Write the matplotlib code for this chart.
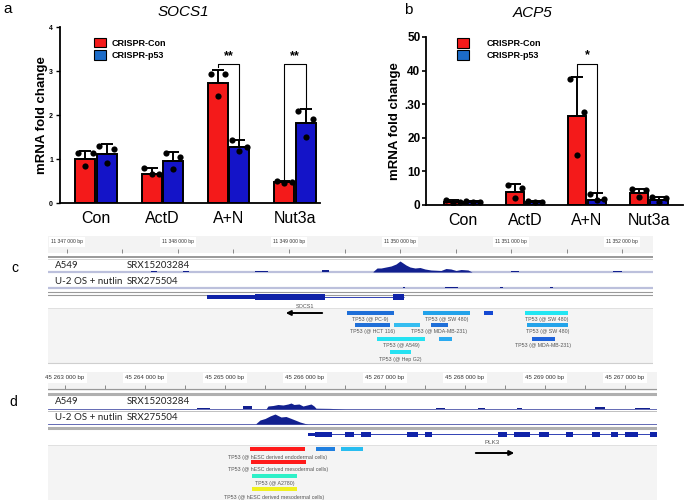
import matplotlib.pyplot as plt
from matplotlib.patches import Patch
import numpy as np

plt.rcParams['font.family'] = ['Liberation Sans', 'DejaVu Sans']

W, H = 685, 500

# ---------------- qPCR data (panels a and b) ----------------
groups = ['Con', 'ActD', 'A+N', 'Nut3a']
series_names = ['CRISPR-Con', 'CRISPR-p53']

socs1_con = [1.00, 0.67, 2.73, 0.47]
socs1_con_sd = [0.19, 0.12, 0.30, 0.03]
socs1_p53 = [1.11, 0.95, 1.27, 1.82]
socs1_p53_sd = [0.24, 0.22, 0.17, 0.32]
socs1_con_pts = [[1.13, 1.13, 0.85], [0.79, 0.67, 0.67], [2.93, 2.93, 2.43], [0.49, 0.48, 0.46]]
socs1_p53_pts = [[1.29, 1.22, 0.90], [1.14, 1.05, 0.77], [1.43, 1.27, 1.18], [2.09, 1.92, 1.50]]

acp5_con = [1.0, 3.8, 26.6, 3.7]
acp5_con_sd = [0.6, 2.5, 11.6, 1.0]
acp5_p53 = [1.0, 1.0, 1.6, 1.4]
acp5_p53_sd = [0.3, 0.3, 1.9, 1.0]
acp5_con_pts = [[1.5, 0.9, 0.6], [6.0, 5.0, 2.2], [37.5, 27.8, 15.0], [4.8, 4.5, 2.4]]
acp5_p53_pts = [[1.3, 1.0, 0.8], [1.3, 1.0, 0.8], [3.4, 1.7, 1.4], [2.4, 2.1, 0.9]]

acp5_ticks = [0, 10, 20, 30, 40, 50]
acp5_ticklabels = ['0', '10', '20', '.30', '40', '50']

# ---------------- genome browser data (panels c and d) ----------------
c_ruler_pos = [11347000, 11348000, 11349000, 11350000, 11351000, 11352000]
c_ruler_labels = ['11 347 000 bp', '11 348 000 bp', '11 349 000 bp',
                  '11 350 000 bp', '11 351 000 bp', '11 352 000 bp']
d_ruler_pos = [45263000, 45264000, 45265000, 45266000, 45267000, 45268000, 45269000, 45270000]
d_ruler_labels = ['45 263 000 bp', '45 264 000 bp', '45 265 000 bp', '45 266 000 bp',
                  '45 267 000 bp', '45 268 000 bp', '45 269 000 bp', '45 267 000 bp']

track_names = ['A549', 'U-2 OS + nutlin']
track_ids = ['SRX15203284', 'SRX275504']

# SOCS1 region coverage
c_a549_pos = [11349757, 11349793, 11349829, 11349874, 11349919, 11349964, 11350000,
              11350027, 11350054, 11350090, 11350135, 11350180, 11350225, 11350279,
              11350369, 11350414, 11350459, 11350505, 11350550, 11350613, 11350649]
c_a549_sig = [0.5, 4, 4, 5, 6, 8, 11, 9, 7, 5, 4, 4.5, 3, 2, 1.5, 3.5, 3, 1.5, 2.5, 2, 0]
c_a549_blip_start = [11347757, 11348045, 11348694, 11349297, 11351000, 11351919]
c_a549_blip_end = [11347811, 11348099, 11348811, 11349360, 11351072, 11352000]
c_a549_blip_sig = [1.5, 1.5, 1.0, 2.5, 1.0, 1.0]
c_u2os_blip_start = [11350027, 11350405, 11350900, 11351351]
c_u2os_blip_end = [11350045, 11350522, 11350928, 11351378]
c_u2os_blip_sig = [1.0, 1.0, 1.0, 1.0]

socs1_utr = [(11348260, 11348695)]
socs1_cds = [(11348695, 11349325), (11349940, 11350035)]
socs1_span = (11348260, 11350035)

c_feat_labels = ['TP53 (@ PC-9)', 'TP53 (@ SW 480)', '', 'TP53 (@ SW 480)',
                 'TP53 (@ HCT 116)', '', 'TP53 (@ MDA-MB-231)', 'TP53 (@ SW 480)',
                 'TP53 (@ A549)', '', 'TP53 (@ MDA-MB-231)', 'TP53 (@ Hep G2)']
c_feat_start = [11349523, 11350207, 11350757, 11351126, 11349595, 11349946, 11350279,
                11351144, 11349793, 11350351, 11351189, 11349910]
c_feat_end = [11349946, 11350631, 11350838, 11351514, 11349910, 11350180, 11350432,
              11351514, 11350225, 11350468, 11351396, 11350099]

# PLK3 region coverage
d_a549_pos = [45265512, 45265537, 45265600, 45265662, 45265725, 45265787, 45265825, 45265862,
              45265925, 45265975, 45266025, 45266075, 45266112, 45266137, 45266312, 45266500]
d_a549_sig = [0, 3, 3.5, 4.5, 4, 5, 6, 4.5, 5, 3, 4, 5, 3, 0.8, 0.6, 0]
d_a549_blip_start = [45264650, 45265225, 45267637, 45268162, 45268650, 45269625, 45270125]
d_a549_blip_end = [45264812, 45265337, 45267750, 45268250, 45268712, 45269750, 45270312]
d_a549_blip_sig = [1.0, 3.0, 0.8, 1.5, 1.0, 2.5, 1.0]
d_u2os_pos = [45265387, 45265437, 45265500, 45265562, 45265625, 45265662, 45265700,
              45265762, 45265812, 45265875, 45265937, 45266000, 45266037]
d_u2os_sig = [0.5, 4, 5.5, 8, 10, 8.5, 7, 7.5, 6, 4, 2, 0.5, 0]
d_u2os_blip_start = [45265087, 45268100]
d_u2os_blip_end = [45265162, 45268150]
d_u2os_blip_sig = [0.5, 0.5]

plk3_utr = [(45266037, 45266125)]
plk3_exons = [(45266125, 45266337), (45266500, 45266612), (45266700, 45266825),
              (45267275, 45267412), (45267500, 45267587), (45268412, 45268525),
              (45268612, 45268812), (45268925, 45269050), (45269262, 45269350),
              (45269587, 45269687), (45269825, 45269912), (45270000, 45270162),
              (45270312, 45270400)]
plk3_span = (45266037, 45270400)

d_feat_labels = ['TP53 (@ hESC derived endodermal cells)', '', '',
                 'TP53 (@ hESC derived mesodermal cells)', 'TP53 (@ A2780)',
                 'TP53 (@ hESC derived mesodermal cells)']
d_feat_start = [45265312, 45266137, 45266450, 45265325, 45265337, 45265337]
d_feat_end = [45266000, 45266375, 45266725, 45266012, 45265900, 45265900]

# ---------------- styles ----------------
RED = '#f41a1a'
BLUE = '#1414c8'
LEG_BLUE = '#1c6cc8'
NAVY = '#12208f'
GENE = '#1023a8'
c_feat_rows = [313, 313, 313, 313, 325, 325, 325, 325, 339, 339, 339, 352]
c_feat_colors = ['#1f6fd8', '#22a2ea', '#1448d2', '#22e6f2', '#1f6fd8', '#35bdf0',
                 '#1f6fd8', '#24a4ea', '#25e2f2', '#2aaaf0', '#1d62da', '#25e2f2']
d_feat_rows = [449, 449, 449, 462, 476, 489]
d_feat_colors = ['#ff1a1a', '#1f7fe0', '#28bdf0', '#ff1a1a', '#2ef0c8', '#f0f020']


def box(x0, y0, x1, y1):
    return [x0 / W, 1 - y1 / H, (x1 - x0) / W, (y1 - y0) / H]


fig = plt.figure(figsize=(W / 100, H / 100), dpi=100)


def qpcr(ax, con, con_sd, p53, p53_sd, con_pts, p53_pts):
    x = np.arange(len(groups))
    for off, m, sd, pts, col in [(-0.16, con, con_sd, con_pts, RED),
                                 (0.16, p53, p53_sd, p53_pts, BLUE)]:
        ax.bar(x + off, m, 0.3, color=col, edgecolor='black', linewidth=1.4, zorder=2)
        ax.errorbar(x + off, m, yerr=[np.zeros(len(m)), sd], fmt='none', ecolor='black',
                    elinewidth=1.4, capsize=4.5, capthick=1.4, zorder=3)
        for i, p in enumerate(pts):
            ax.scatter(x[i] + off + np.array([-0.11, 0.11, 0.0]), p, s=20,
                       color='black', zorder=4, linewidths=0)
    for s in ['top', 'right']:
        ax.spines[s].set_visible(False)
    for s in ['left', 'bottom']:
        ax.spines[s].set_linewidth(1.3)
    ax.set_xticks(x)
    ax.set_xticklabels(groups, fontsize=11.5)
    ax.tick_params(axis='x', length=0, pad=6)
    ax.set_ylabel('mRNA fold change', fontsize=9.5, fontweight='bold')
    ax.set_facecolor('none')


def bracket(ax, x0, x1, y_left, y_top, y_right, stars, star_y):
    ax.plot([x0, x0, x1, x1], [y_left, y_top, y_top, y_right], color='black', lw=0.8, zorder=5)
    ax.text((x0 + x1) / 2, star_y, stars, ha='center', va='center', fontsize=9, fontweight='bold')


def legend(ax, anchor, pad):
    handles = [Patch(facecolor=RED, edgecolor='black', linewidth=0.8),
               Patch(facecolor=LEG_BLUE, edgecolor='black', linewidth=0.8)]
    ax.legend(handles, series_names, loc='upper left', bbox_to_anchor=anchor,
              frameon=False, borderpad=0, borderaxespad=0, handlelength=1.35,
              handleheight=1.3, handletextpad=pad, labelspacing=0.3,
              prop={'size': 6.5, 'weight': 'bold'})


# ---- panel a ----
ax_a = fig.add_axes(box(60, 27, 320, 203))
qpcr(ax_a, socs1_con, socs1_con_sd, socs1_p53, socs1_p53_sd, socs1_con_pts, socs1_p53_pts)
ax_a.set_xlim(-0.543, 3.377)
ax_a.set_ylim(0, 4)
ax_a.set_yticks([0, 1, 2, 3, 4])
ax_a.tick_params(axis='y', labelsize=5, length=3, width=1, pad=2)
for t in ax_a.get_yticklabels():
    t.set_fontweight('bold')
ax_a.yaxis.set_label_coords(-0.046, 0.5)
bracket(ax_a, 2 - 0.16, 2 + 0.16, 3.08, 3.17, 1.48, '**', 3.33)
bracket(ax_a, 3 - 0.16, 3 + 0.16, 0.55, 3.17, 2.16, '**', 3.33)
legend(ax_a, (0.131, 0.94), 0.55)

# ---- panel b ----
ax_b = fig.add_axes(box(426, 37, 683, 205))
qpcr(ax_b, acp5_con, acp5_con_sd, acp5_p53, acp5_p53_sd, acp5_con_pts, acp5_p53_pts)
ax_b.set_xlim(-0.6, 3.55)
ax_b.set_ylim(0, 50)
ax_b.set_yticks(acp5_ticks)
ax_b.set_yticklabels(acp5_ticklabels)
ax_b.tick_params(axis='y', labelsize=8.5, length=3, width=1.2, pad=1)
for t in ax_b.get_yticklabels():
    t.set_fontweight('bold')
ax_b.yaxis.set_label_coords(-0.098, 0.5)
bracket(ax_b, 2 - 0.16, 2 + 0.16, 38.8, 42.0, 3.6, '*', 44.6)
legend(ax_b, (0.12, 0.995), 1.9)


# ---------------- genome tracks ----------------
def coverage(ax, base, pos, sig, bs, be, bsig, color=NAVY):
    ax.fill_between(pos, base, base - np.array(sig), color=color, lw=0, zorder=3)
    for s, e, h in zip(bs, be, bsig):
        ax.broken_barh([(s, e - s)], (base - h, h), color=color, lw=0, zorder=3)


def ruler(ax, ticks, pos, labels, y_lab, y_t0, y_t1, size, band):
    ax.axhspan(band[0], band[1], color='#f3f3f3', lw=0, zorder=0)
    ax.vlines(ticks, y_t0, y_t1, color='#777777', lw=0.6, zorder=2)
    for p, lab in zip(pos, labels):
        ax.text(p, y_lab, lab, ha='center', va='center', fontsize=size, color='#333333',
                zorder=3, bbox=dict(facecolor='white', edgecolor='none', pad=1.5))


def features(ax, starts, ends, rows, colors, labels, h, dy):
    for s, e, r, c, lab in zip(starts, ends, rows, colors, labels):
        ax.broken_barh([(s, e - s)], (r - h / 2, h), color=c, lw=0, zorder=3)
        if lab:
            ax.text((s + e) / 2, r + dy, lab, ha='center', va='center', fontsize=3.8,
                    color='#555555', zorder=4)


# ---- panel c ----
ax_c = fig.add_axes(box(48, 235, 653, 368))
ax_c.set_xlim(11346829, 11352279)
ax_c.set_ylim(368, 235)
ax_c.axis('off')
ruler(ax_c, np.arange(11347000, 11352001, 500), c_ruler_pos, c_ruler_labels,
      242, 249, 253, 3.6, (236, 253))
ax_c.axhline(257, color='#999999', lw=1.4)
ax_c.axhline(259, color='#cccccc', lw=0.6)
ax_c.axhline(272, color='#bcc0dc', lw=1.6, zorder=2)
ax_c.axhline(288, color='#bcc0dc', lw=1.6, zorder=2)
ax_c.axhline(292, color='#9a9a9a', lw=0.8)
ax_c.axhline(294.5, color='#9a9a9a', lw=0.8)
coverage(ax_c, 272, c_a549_pos, c_a549_sig, c_a549_blip_start, c_a549_blip_end, c_a549_blip_sig)
coverage(ax_c, 288, [c_u2os_blip_start[0]], [0], c_u2os_blip_start, c_u2os_blip_end, c_u2os_blip_sig)
ax_c.hlines(297, *socs1_span, color=GENE, lw=0.6, zorder=3)
for s, e in socs1_utr:
    ax_c.broken_barh([(s, e - s)], (295.2, 3.6), color=GENE, lw=0, zorder=3)
for s, e in socs1_cds:
    ax_c.broken_barh([(s, e - s)], (294.2, 5.6), color=GENE, lw=0, zorder=3)
ax_c.text(11349144, 306, 'SOCS1', ha='center', va='center', fontsize=4, color='#555555')
ax_c.axhspan(308, 363, color='#f4f4f4', lw=0, zorder=0)
ax_c.axhline(308, color='#dddddd', lw=0.6)
ax_c.axhline(363, color='#cfcfcf', lw=0.8)
ax_c.annotate('', xy=(11348946, 313), xytext=(11349324, 313),
              arrowprops=dict(arrowstyle='-|>', color='black', lw=1.4, mutation_scale=7))
features(ax_c, c_feat_start, c_feat_end, c_feat_rows, c_feat_colors, c_feat_labels, 3.5, 7)

# ---- panel d ----
ax_d = fig.add_axes(box(48, 370, 657, 500))
ax_d.set_xlim(45262787, 45270400)
ax_d.set_ylim(500, 370)
ax_d.axis('off')
ruler(ax_d, np.arange(45263000, 45270001, 500), d_ruler_pos, d_ruler_labels,
      378, 384.5, 388.5, 4.4, (372, 388))
ax_d.axhline(389, color='#999999', lw=1.0)
ax_d.axhline(394, color='#b0b0b0', lw=2.2)
ax_d.axhline(409, color='#4a52a8', lw=0.6, zorder=2)
ax_d.axhline(410.5, color='#c0c0c0', lw=0.7)
ax_d.axhline(424, color='#4a52a8', lw=0.6, zorder=2)
ax_d.axhline(428, color='#b0b0b0', lw=2.2)
coverage(ax_d, 409, d_a549_pos, d_a549_sig, d_a549_blip_start, d_a549_blip_end, d_a549_blip_sig)
coverage(ax_d, 424, d_u2os_pos, d_u2os_sig, d_u2os_blip_start, d_u2os_blip_end, d_u2os_blip_sig)
ax_d.hlines(434, *plk3_span, color=GENE, lw=0.6, zorder=3)
for s, e in plk3_utr:
    ax_d.broken_barh([(s, e - s)], (432.5, 3), color=GENE, lw=0, zorder=3)
for s, e in plk3_exons:
    ax_d.broken_barh([(s, e - s)], (431.5, 5), color=GENE, lw=0, zorder=3)
ax_d.text(45268337, 442, 'PLK3', ha='center', va='center', fontsize=4.5, color='#555555')
ax_d.axhspan(445, 500, color='#f4f4f4', lw=0, zorder=0)
ax_d.axhline(445, color='#dddddd', lw=0.6)
ax_d.annotate('', xy=(45268650, 453), xytext=(45268100, 453),
              arrowprops=dict(arrowstyle='-|>', color='black', lw=1.4, mutation_scale=7))
features(ax_d, d_feat_start, d_feat_end, d_feat_rows, d_feat_colors, d_feat_labels, 3.5, 8)

# ---------------- overlay texts ----------------
ov = fig.add_axes([0, 0, 1, 1])
ov.set_xlim(0, W)
ov.set_ylim(H, 0)
ov.axis('off')
ov.text(8, 9, 'a', fontsize=11, ha='center', va='center')
ov.text(408, 10, 'b', fontsize=11, ha='center', va='center')
ov.text(183, 12, 'SOCS1', fontsize=11, style='italic', ha='center', va='center')
ov.text(533, 13, 'ACP5', fontsize=11, style='italic', ha='center', va='center')
ov.text(15, 268, 'c', fontsize=10, ha='center', va='center')
ov.text(13, 402, 'd', fontsize=10, ha='center', va='center')
for y_rows in [(266, 281), (402, 418)]:
    for y, name, sid in zip(y_rows, track_names, track_ids):
        ov.text(55, y, name, fontsize=7, family='Lato', color='#222222', va='center')
        ov.text(127, y, sid, fontsize=7, family='Lato', color='#222222', va='center')

fig.savefig('out.png', dpi=100)
